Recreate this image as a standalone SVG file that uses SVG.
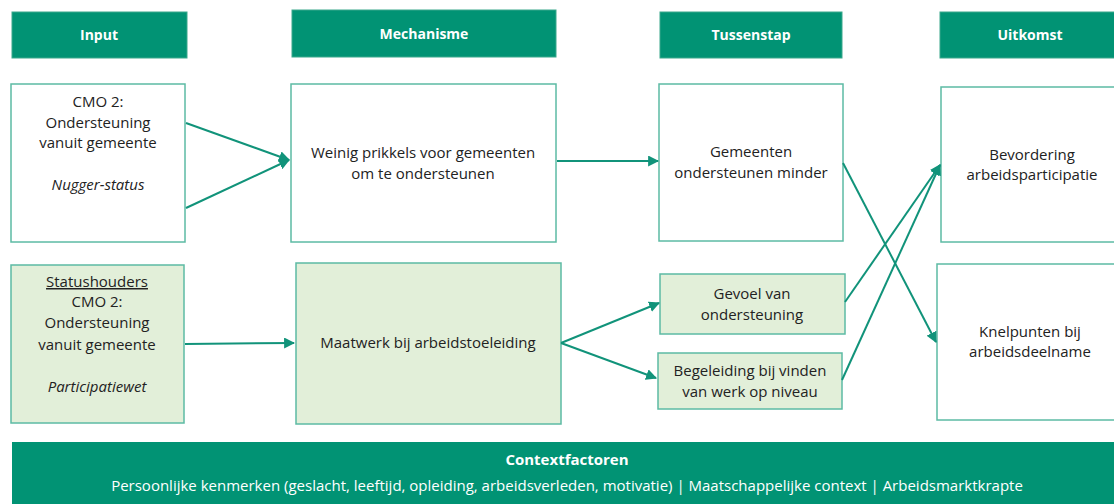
<svg xmlns="http://www.w3.org/2000/svg" width="1114" height="504" viewBox="0 0 1114 504">
<style>
.hdr{fill:#019374;stroke:#3aa88c;stroke-width:1}
.box{fill:#ffffff;stroke:#5cbba4;stroke-width:1.5}
.gbox{fill:#e2efd9;stroke:#5cbba4;stroke-width:1.5}
.ht{font-family:"Open Sans","Liberation Sans",sans-serif;font-weight:bold;font-size:14px;fill:#ffffff;text-anchor:middle}
.t{font-family:"Open Sans","Liberation Sans",sans-serif;font-size:15px;fill:#222222;text-anchor:middle}
.i{font-style:italic}
.ct{font-family:"Open Sans","Liberation Sans",sans-serif;font-size:15px;fill:#ffffff;text-anchor:middle}
.con{stroke:#11937a;stroke-width:2;fill:none;marker-end:url(#ah)}
</style>
<defs>
<marker id="ah" viewBox="0 0 10 10" refX="9" refY="5" markerWidth="5.5" markerHeight="5.5" orient="auto" markerUnits="strokeWidth">
<path d="M0,0 L10,5 L0,10 z" fill="#11937a"/>
</marker>
</defs>
<rect width="1114" height="504" fill="#ffffff"/>
<g id="hdr-input"><rect class="hdr" x="12" y="12" width="175" height="46"/><text class="ht" x="99" y="40">Input</text></g>
<g id="hdr-mechanisme"><rect class="hdr" x="292" y="10" width="264" height="47"/><text class="ht" x="424" y="39">Mechanisme</text></g>
<g id="hdr-tussenstap"><rect class="hdr" x="660" y="12" width="182" height="46"/><text class="ht" x="751" y="40">Tussenstap</text></g>
<g id="hdr-uitkomst"><rect class="hdr" x="940" y="12" width="180" height="46"/><text class="ht" x="1030" y="40">Uitkomst</text></g>

<g id="input1"><rect class="box" x="11" y="84" width="174" height="158"/>
<text class="t" x="98" y="107">CMO 2:</text>
<text class="t" x="98" y="128">Ondersteuning</text>
<text class="t" x="98" y="148">vanuit gemeente</text>
<text class="t i" x="98" y="190">Nugger-status</text></g>

<g id="input2"><rect class="gbox" x="11" y="265" width="173" height="158"/>
<text class="t" x="97" y="287" text-decoration="underline">Statushouders</text>
<text class="t" x="97" y="307">CMO 2:</text>
<text class="t" x="97" y="328">Ondersteuning</text>
<text class="t" x="97" y="350">vanuit gemeente</text>
<text class="t i" x="97" y="392">Participatiewet</text></g>

<g id="mech1"><rect class="box" x="291" y="84" width="265" height="158"/>
<text class="t" x="423" y="158">Weinig prikkels voor gemeenten</text>
<text class="t" x="423" y="179">om te ondersteunen</text></g>

<g id="mech2"><rect class="gbox" x="296" y="263" width="265" height="161"/>
<text class="t" x="428" y="348">Maatwerk bij arbeidstoeleiding</text></g>

<g id="tuss1"><rect class="box" x="659" y="84" width="184" height="157"/>
<text class="t" x="751" y="157">Gemeenten</text>
<text class="t" x="751" y="178">ondersteunen minder</text></g>

<g id="gevoel"><rect class="gbox" x="660" y="274" width="185" height="60"/>
<text class="t" x="752" y="299">Gevoel van</text>
<text class="t" x="752" y="320">ondersteuning</text></g>

<g id="begeleiding"><rect class="gbox" x="658" y="353" width="184" height="56"/>
<text class="t" x="750" y="376">Begeleiding bij vinden</text>
<text class="t" x="750" y="397">van werk op niveau</text></g>

<g id="uitkomst1"><rect class="box" x="941" y="87" width="180" height="155"/>
<text class="t" x="1032" y="160">Bevordering</text>
<text class="t" x="1032" y="180">arbeidsparticipatie</text></g>

<g id="uitkomst2"><rect class="box" x="937" y="264" width="184" height="156"/>
<text class="t" x="1030" y="337">Knelpunten bij</text>
<text class="t" x="1030" y="357">arbeidsdeelname</text></g>

<g id="context"><rect x="12" y="442" width="1110" height="70" fill="#019374"/>
<text class="ct" x="567" y="465" font-weight="bold" font-size="14">Contextfactoren</text>
<text class="ct" x="567" y="491">Persoonlijke kenmerken (geslacht, leeftijd, opleiding, arbeidsverleden, motivatie) | Maatschappelijke context | Arbeidsmarktkrapte</text></g>

<g id="connectors">
<line class="con" x1="186" y1="123" x2="289" y2="160"/>
<line class="con" x1="186" y1="208" x2="289" y2="160"/>
<line class="con" x1="557" y1="161" x2="658" y2="161"/>
<line class="con" x1="185" y1="344" x2="294" y2="343"/>
<line class="con" x1="561" y1="343" x2="659" y2="303"/>
<line class="con" x1="561" y1="343" x2="656" y2="378"/>
<line class="con" x1="843" y1="163" x2="936" y2="342"/>
<line class="con" x1="845" y1="302" x2="940" y2="165"/>
<line class="con" x1="842" y1="380" x2="940" y2="165"/>
</g>
</svg>
